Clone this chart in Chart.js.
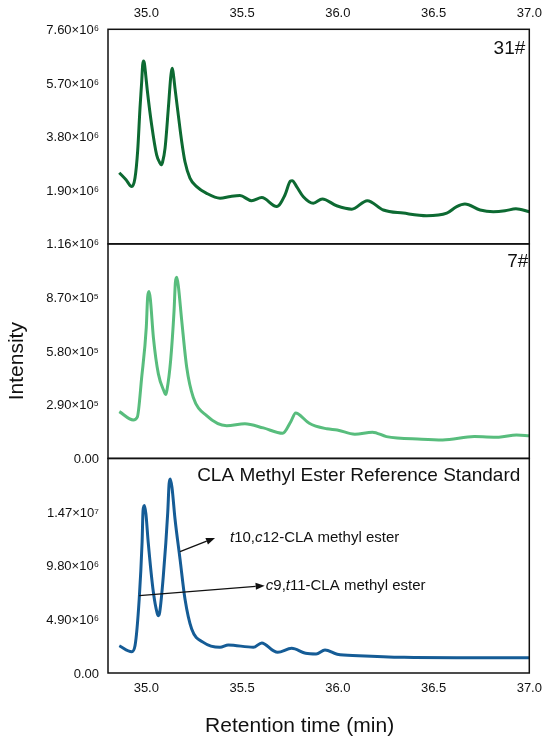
<!DOCTYPE html>
<html>
<head>
<meta charset="utf-8">
<script src="https://cdn.jsdelivr.net/npm/chart.js@4.4.1/dist/chart.umd.min.js"></script>
<style>
html,body{margin:0;padding:0;background:#fff;}
#wrap{position:relative;width:550px;height:744px;}
</style>
</head>
<body>
<div id="wrap"><canvas id="c"></canvas></div>
<script>
// ---- data (retention time in min, intensity) ----
const timeTop = [34.859,34.894,34.924,34.941,34.955,34.967,34.976,34.981,34.986,34.990,34.997,35.005,35.028,35.054,35.070,35.077,35.085,35.098,35.115,35.127,35.131,35.136,35.143,35.150,35.167,35.185,35.202,35.228,35.263,35.315,35.385,35.440,35.489,35.550,35.603,35.681,35.724,35.752,35.762,35.785,35.820,35.872,35.919,35.994,36.073,36.154,36.238,36.342,36.464,36.569,36.621,36.664,36.743,36.812,36.873,36.930,37.000];
const intensityTop = [2.52e6,2.27e6,2.03e6,2.33e6,3.30e6,4.80e6,5.75e6,6.34e6,6.48e6,6.40e6,5.98e6,5.45e6,4.21e6,3.15e6,2.88e6,2.80e6,2.90e6,3.39e6,4.80e6,5.87e6,6.10e6,6.22e6,5.92e6,5.50e6,4.57e6,3.62e6,2.91e6,2.33e6,2.03e6,1.79e6,1.62e6,1.68e6,1.71e6,1.53e6,1.64e6,1.32e6,1.73e6,2.22e6,2.24e6,2.03e6,1.67e6,1.44e6,1.59e6,1.35e6,1.23e6,1.53e6,1.20e6,1.09e6,1.00e6,1.09e6,1.32e6,1.41e6,1.20e6,1.14e6,1.17e6,1.24e6,1.14e6];

const timeMid = [34.859,34.932,34.953,34.976,35.000,35.007,35.014,35.021,35.037,35.063,35.094,35.101,35.108,35.127,35.145,35.152,35.159,35.167,35.185,35.211,35.245,35.315,35.420,35.515,35.611,35.712,35.755,35.780,35.792,35.851,35.943,35.997,36.089,36.181,36.254,36.438,36.548,36.713,36.841,36.933,37.000];
const intensityMid = [2.53e5,2.08e5,2.23e5,4.39e5,7.10e5,8.72e5,9.02e5,8.63e5,6.55e5,4.57e5,3.60e5,3.45e5,3.70e5,5.29e5,7.99e5,9.53e5,9.80e5,9.35e5,7.45e5,4.93e5,3.31e5,2.31e5,1.77e5,1.87e5,1.65e5,1.36e5,2.00e5,2.46e5,2.42e5,1.90e5,1.60e5,1.54e5,1.31e5,1.42e5,1.18e5,1.04e5,1.00e5,1.18e5,1.15e5,1.27e5,1.23e5];

const timeBot = [34.859,34.924,34.941,34.963,34.978,34.983,34.990,34.998,35.010,35.037,35.057,35.063,35.070,35.089,35.112,35.119,35.125,35.134,35.150,35.176,35.202,35.237,35.298,35.385,35.428,35.559,35.603,35.663,35.686,35.759,35.832,35.887,35.933,35.997,36.108,36.346,36.621,37.000];
const intensityBot = [2.49e6,1.95e6,2.49e6,6.76e6,11.94e6,14.83e6,15.29e6,14.53e6,11.94e6,7.37e6,5.45e6,5.24e6,5.55e6,8.89e6,14.68e6,17.27e6,17.73e6,16.97e6,14.07e6,10.42e6,6.76e6,4.02e6,2.80e6,2.35e6,2.56e6,2.35e6,2.75e6,2.04e6,1.89e6,2.26e6,1.80e6,1.74e6,2.10e6,1.71e6,1.58e6,1.43e6,1.40e6,1.40e6];

// ---- tick labels ----
const xTicks = [35.0,35.5,36.0,36.5,37.0];
const yTicksTop = [0,1.9e6,3.8e6,5.7e6,7.6e6];
const yTicksMid = [0,2.9e5,5.8e5,8.7e5,1.16e6];
const yTicksBot = [0,4.9e6,9.8e6,1.47e7,1.96e7];
const hiddenTop = [0];
const hiddenBot = [1.96e7];

const panelNames = ['31#','7#','CLA Methyl Ester Reference Standard'];
const label1 = [['t',true],['10,',false],['c',true],['12-CLA methyl ester',false]];
const label2 = [['c',true],['9,',false],['t',true],['11-CLA methyl ester',false]];

const FONT = '"Liberation Sans", Arial, Helvetica, sans-serif';
Chart.defaults.font.family = FONT;
Chart.defaults.color = '#111';

const SUP = {'0':'\u2070','1':'\u00B9','2':'\u00B2','3':'\u00B3','4':'\u2074','5':'\u2075','6':'\u2076','7':'\u2077','8':'\u2078','9':'\u2079'};
function sci(v){
  if (v === 0) return '0.00';
  const e = Math.floor(Math.log10(v) + 1e-9);
  const m = v / Math.pow(10, e);
  return m.toFixed(2) + '\u00D710' + String(e).split('').map(d => SUP[d]).join('');
}
function pts(xs, ys){ return xs.map((x,i) => ({x:x, y:ys[i]})); }

function yScale(ticksArr, hidden, weight){
  return {
    type:'linear', position:'left', stack:'panels', stackWeight:1, weight:weight,
    min: ticksArr[0], max: ticksArr[ticksArr.length-1],
    grid:{display:false, drawTicks:false}, border:{display:false},
    afterBuildTicks: s => { s.ticks = ticksArr.map(v => ({value:v})); },
    afterFit: s => { s.width = 108; },
    ticks:{font:{size:13}, color:'#111', padding:9, labelOffset:1,
      callback: v => hidden.indexOf(v) >= 0 ? '' : sci(v)}
  };
}
function xScale(pos){
  return {
    type:'linear', position:pos, min:34.8, max:37.0,
    grid:{display:false, drawTicks:false}, border:{display:false},
    afterBuildTicks: s => { s.ticks = xTicks.map(v => ({value:v})); },
    afterFit: s => { s.height = pos === 'top' ? 29.3 : 71; },
    ticks:{font:{size:13}, color:'#111', padding:8, maxRotation:0,
      callback: v => Number(v).toFixed(1)}
  };
}

function richText(ctx, parts, x, y, size){
  let cx = x;
  parts.forEach(p => {
    ctx.font = (p[1] ? 'italic ' : '') + size + 'px ' + FONT;
    ctx.fillText(p[0], cx, y);
    cx += ctx.measureText(p[0]).width;
  });
}
function arrow(ctx, x1, y1, x2, y2){
  const ang = Math.atan2(y2-y1, x2-x1), L = 9, W = 3.5;
  const bx = x2 - L*Math.cos(ang), by = y2 - L*Math.sin(ang);
  ctx.beginPath(); ctx.moveTo(x1,y1); ctx.lineTo(bx,by); ctx.stroke();
  ctx.beginPath(); ctx.moveTo(x2,y2);
  ctx.lineTo(bx + W*Math.sin(ang), by - W*Math.cos(ang));
  ctx.lineTo(bx - W*Math.sin(ang), by + W*Math.cos(ang));
  ctx.closePath(); ctx.fill();
}

const deco = {
  id:'deco',
  afterDraw(chart){
    const {ctx, chartArea:a, scales:s} = chart;
    ctx.save();
    ctx.strokeStyle = '#111'; ctx.lineWidth = 1.5;
    ['yTop','yMid','yBot'].forEach(id => {
      ctx.strokeRect(a.left, s[id].top, a.right - a.left, s[id].bottom - s[id].top);
    });
    ctx.fillStyle = '#111';
    ctx.textBaseline = 'middle';
    ctx.textAlign = 'right';
    ctx.font = '19px ' + FONT;
    ctx.fillText(panelNames[0], a.right - 4, s.yTop.top + 19);
    ctx.fillText(panelNames[1], a.right - 1, s.yMid.top + 18);
    ctx.fillText(panelNames[2], a.right - 9, s.yBot.top + 17.5);
    // annotations (bottom panel, data coordinates)
    const X = s.x, Y = s.yBot;
    ctx.lineWidth = 1.3;
    arrow(ctx, X.getPixelForValue(35.176), Y.getPixelForValue(11.08e6), X.getPixelForValue(35.359), Y.getPixelForValue(12.34e6));
    arrow(ctx, X.getPixelForValue(34.963), Y.getPixelForValue(7.06e6), X.getPixelForValue(35.618), Y.getPixelForValue(7.98e6));
    ctx.textAlign = 'left';
    richText(ctx, label1, X.getPixelForValue(35.437), Y.getPixelForValue(12.34e6), 15);
    richText(ctx, label2, X.getPixelForValue(35.624), Y.getPixelForValue(7.95e6), 15);
    // axis titles
    ctx.textAlign = 'center';
    ctx.font = '21px ' + FONT;
    ctx.fillText('Retention time (min)', (a.left + a.right)/2 - 19, a.bottom + 53);
    ctx.save();
    ctx.translate(17, (a.top + a.bottom)/2 + 10);
    ctx.rotate(-Math.PI/2);
    ctx.fillText('Intensity', 0, 0);
    ctx.restore();
    ctx.restore();
  }
};

new Chart(document.getElementById('c'), {
  type:'line',
  data:{datasets:[
    {label:'31#', data:pts(timeTop, intensityTop), yAxisID:'yTop', xAxisID:'x', borderColor:'#0d6a32', borderWidth:3, pointRadius:0, cubicInterpolationMode:'monotone', fill:false},
    {label:'7#', data:pts(timeMid, intensityMid), yAxisID:'yMid', xAxisID:'x', borderColor:'#58bd7d', borderWidth:3, pointRadius:0, cubicInterpolationMode:'monotone', fill:false},
    {label:'Standard', data:pts(timeBot, intensityBot), yAxisID:'yBot', xAxisID:'x', borderColor:'#155c96', borderWidth:3, pointRadius:0, cubicInterpolationMode:'monotone', fill:false}
  ]},
  options:{
    responsive:true, maintainAspectRatio:false, animation:false,
    layout:{padding:{left:0, right:20.7, top:0, bottom:0}},
    plugins:{legend:{display:false}, tooltip:{enabled:false}},
    scales:{
      x: xScale('bottom'),
      x2: xScale('top'),
      yTop: yScale(yTicksTop, hiddenTop, 3),
      yMid: yScale(yTicksMid, [], 2),
      yBot: yScale(yTicksBot, hiddenBot, 1)
    }
  },
  plugins:[deco]
});
</script>
</body>
</html>
